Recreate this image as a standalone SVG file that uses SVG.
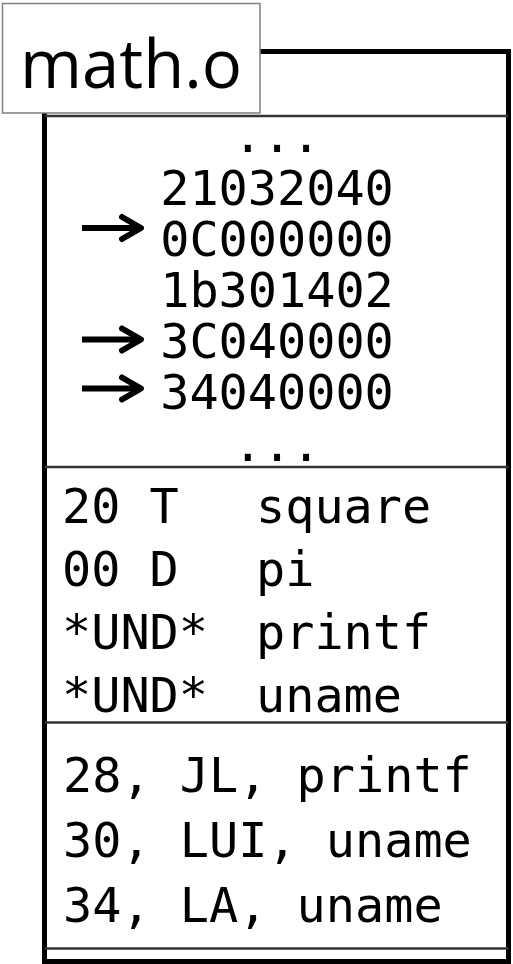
<svg xmlns="http://www.w3.org/2000/svg" width="513" height="964" viewBox="0 0 513 964">
<style>
.mono{font-family:"DejaVu Sans Mono","Liberation Mono",monospace;font-size:48.5px;fill:#000}
.code{text-anchor:middle}
.sep{stroke:#333;stroke-width:2.5;fill:none}
.frame{stroke:#000;stroke-width:5;fill:#fff}
.shaft{stroke:#000;stroke-width:6;fill:none;marker-end:url(#head)}
.title{font-family:"Open Sans","Noto Sans","Liberation Sans",sans-serif;font-size:67px;fill:#000}
</style>
<defs>
<marker id="head" markerUnits="userSpaceOnUse" viewBox="-26 -16 32 32" refX="0" refY="0" markerWidth="32" markerHeight="32" orient="auto">
<path d="M-19,-11 L0,0 L-19,11" fill="none" stroke="#000" stroke-width="6" stroke-linecap="round" stroke-linejoin="round"/>
</marker>
</defs>
<g id="object-file">
<rect class="frame" x="44.5" y="51.5" width="464" height="910"/>
</g>
<g id="code-section">
<line class="sep" x1="44.5" y1="116" x2="508.5" y2="116"/>
<text class="mono code" x="277" y="152">...</text>
<text class="mono code" x="277" y="205">21032040</text>
<text class="mono code" x="277" y="256">0C000000</text>
<text class="mono code" x="277" y="307">1b301402</text>
<text class="mono code" x="277" y="358">3C040000</text>
<text class="mono code" x="277" y="409">34040000</text>
<text class="mono code" x="277" y="461">...</text>
</g>
<g id="symbol-section">
<line class="sep" x1="44.5" y1="467" x2="508.5" y2="467"/>
<text class="mono" x="62" y="522.5">20 T</text>
<text class="mono" x="256" y="522.5">square</text>
<text class="mono" x="62" y="585.5">00 D</text>
<text class="mono" x="256" y="585.5">pi</text>
<text class="mono" x="62" y="648.5">*UND*</text>
<text class="mono" x="256" y="648.5">printf</text>
<text class="mono" x="62" y="711.5">*UND*</text>
<text class="mono" x="256" y="711.5">uname</text>
</g>
<g id="relocation-section">
<line class="sep" x1="44.5" y1="722.5" x2="508.5" y2="722.5"/>
<text class="mono" x="63" y="792">28, JL, printf</text>
<text class="mono" x="63" y="857">30, LUI, uname</text>
<text class="mono" x="63" y="922">34, LA, uname</text>
<line class="sep" x1="44.5" y1="948.5" x2="508.5" y2="948.5"/>
</g>
<g id="connectors">
<path class="shaft" d="M82,228 H141"/>
<path class="shaft" d="M82,339.5 H141"/>
<path class="shaft" d="M82,388.5 H141"/>
</g>
<g id="label">
<rect x="2.5" y="3.5" width="257.5" height="109.5" fill="#fff" stroke="#7f7f7f" stroke-width="1.5"/>
<text class="title" x="20" y="88">math.o</text>
</g>
</svg>
